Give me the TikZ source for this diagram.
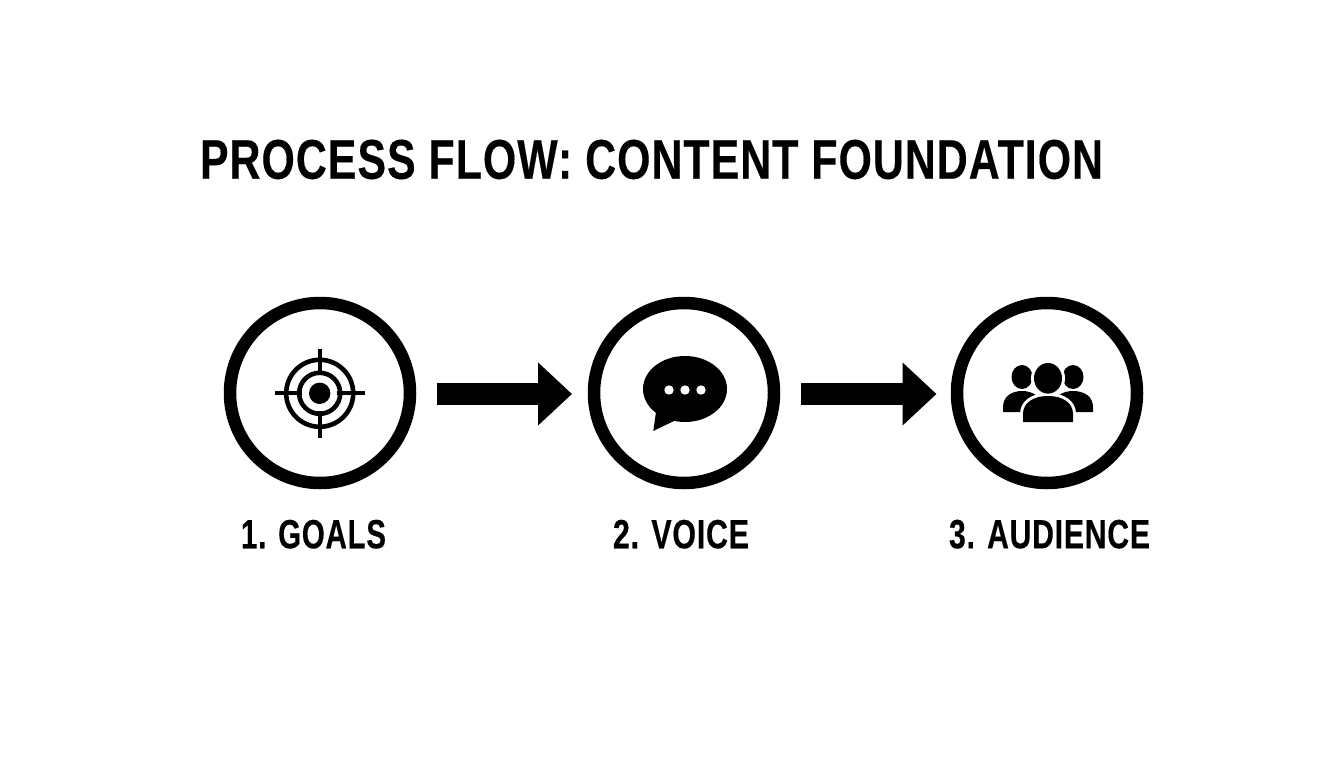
\documentclass[tikz,border=0pt]{standalone}
\usepackage{fontspec}
\usepackage{graphicx}
\usetikzlibrary{arrows.meta}
\setmainfont{Liberation Sans}[BoldFeatures={LetterSpace=2.5,FakeBold=0.35}]
\newcommand{\fitlabel}[3]{\resizebox{#1pt}{#2pt}{\bfseries #3}}
\tikzset{
  ink/.style={fill=black,draw=none},
  ring/.style={draw=black,line width=12.5pt,circle,minimum size=180pt,inner sep=0pt,outer sep=6pt},
  textnode/.style={inner sep=0pt,outer sep=0pt,text=black},
  thin ring/.style={draw=black,line width=4.6pt,fill=none},
  tick/.style={draw=black,line width=4pt},
  halo/.style={draw=white,line width=6pt,fill=white},
  blockarrow/.style={draw=black,line width=22pt,-{Triangle[length=34pt,width=61pt]},shorten <=21pt}
}
\begin{document}
\begin{tikzpicture}[x=1pt,y=-1pt]
\useasboundingbox (0,0) rectangle (1344,768);
\fill[white] (0,0) rectangle (1344,768);
\node[textnode] (title) at (651.5,159.5) {\fitlabel{903}{39}{PROCESS FLOW: CONTENT FOUNDATION}};
\node[ring] (c1) at (320,393) {};
\node[ring] (c2) at (684,393) {};
\node[ring] (c3) at (1047,393) {};
\node[textnode] (l1) at (313.5,534.2) {\fitlabel{145}{28.5}{1. GOALS}};
\node[textnode] (l2) at (681,534.2) {\fitlabel{136}{28.5}{2. VOICE}};
\node[textnode] (l3) at (1049.5,534.2) {\fitlabel{201}{28.5}{3. AUDIENCE}};
% block arrows
\draw[blockarrow,shorten >=16pt] ([yshift=-1pt]c1.east) -- ([yshift=-1pt]c2.west);
\draw[blockarrow,shorten >=14.5pt] ([yshift=-1pt]c2.east) -- ([yshift=-1pt]c3.west);
% target
\draw[thin ring] (319.7,393.3) circle (33.5);
\draw[thin ring] (319.7,393.3) circle (20.5);
\fill[ink] (319.7,393.3) circle (10.7);
\draw[tick] (275,393.3) -- (302,393.3);
\draw[tick] (337,393.3) -- (365,393.3);
\draw[tick] (319.7,348.5) -- (319.7,375);
\draw[tick] (319.7,411) -- (319.7,438);
% speech bubble
\fill[ink] (685,389) ellipse [x radius=42,y radius=33];
\fill[ink] (656,412) -- (653.3,431) -- (676,420) -- cycle;
\fill[white] (669,390) circle (4.7);
\fill[white] (685,390) circle (4.7);
\fill[white] (701,390) circle (4.7);
% people
\fill[ink] (1022,377) ellipse [x radius=10.5,y radius=12];
\fill[ink] (1073,377) ellipse [x radius=10.5,y radius=12];
\fill[ink] (1003,412) -- (1003,407) .. controls (1003,397) and (1011,391) .. (1022,391) .. controls (1033,391) and (1042,397) .. (1042,407) -- (1042,412) -- cycle;
\fill[ink] (1093,412) -- (1093,407) .. controls (1093,397) and (1085,391) .. (1073,391) .. controls (1062,391) and (1053,397) .. (1053,407) -- (1053,412) -- cycle;
\path[halo] (1048,378.3) ellipse [x radius=14,y radius=15.3];
\path[halo] (1023,422) -- (1023,414) .. controls (1023,403) and (1033,396) .. (1048,396) .. controls (1063,396) and (1073,403) .. (1073,414) -- (1073,422) -- cycle;
\fill[ink] (1048,378.3) ellipse [x radius=14,y radius=15.3];
\fill[ink] (1023,422) -- (1023,414) .. controls (1023,403) and (1033,396) .. (1048,396) .. controls (1063,396) and (1073,403) .. (1073,414) -- (1073,422) -- cycle;
\end{tikzpicture}
\end{document}
